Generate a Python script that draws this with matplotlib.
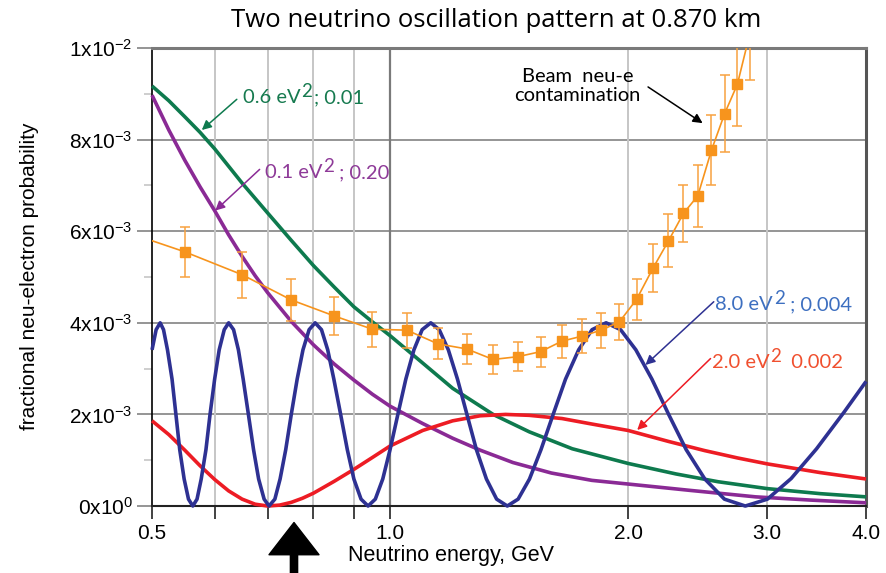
import matplotlib
matplotlib.use("Agg")
import matplotlib.pyplot as plt
from matplotlib.ticker import FixedLocator, NullLocator

plt.rcParams['font.family'] = ['Liberation Sans', 'DejaVu Sans']
plt.rcParams['mathtext.fontset'] = 'custom'
plt.rcParams['mathtext.rm'] = 'Liberation Sans'

# probabilities in units of 1e-3, energies in GeV
green_E = [0.50, 0.525, 0.55, 0.575, 0.60, 0.65, 0.70, 0.75, 0.80, 0.85, 0.90, 0.95, 1.00,
           1.10, 1.20, 1.35, 1.50, 1.70, 2.00, 2.30, 2.60, 3.00, 3.50, 4.00]
green_P = [9.17, 8.85, 8.50, 8.16, 7.80, 7.05, 6.40, 5.80, 5.25, 4.78, 4.35, 4.02, 3.72,
           3.12, 2.57, 2.00, 1.62, 1.25, 0.93, 0.70, 0.53, 0.38, 0.27, 0.20]

purple_E = [0.50, 0.525, 0.55, 0.575, 0.60, 0.625, 0.65, 0.675, 0.70, 0.75, 0.80, 0.85,
            0.90, 0.95, 1.00, 1.10, 1.20, 1.30, 1.43, 1.60, 1.80, 2.00, 2.40, 2.90, 3.40, 4.00]
purple_P = [8.97, 8.21, 7.55, 6.97, 6.45, 5.92, 5.45, 5.03, 4.66, 4.03, 3.52, 3.10,
            2.75, 2.44, 2.18, 1.80, 1.48, 1.22, 0.95, 0.72, 0.56, 0.48, 0.34, 0.20, 0.13, 0.07]

red_E = [0.50, 0.525, 0.55, 0.575, 0.60, 0.625, 0.65, 0.675, 0.70, 0.725, 0.75, 0.775,
         0.80, 0.85, 0.90, 0.95, 1.00, 1.10, 1.20, 1.30, 1.40, 1.50, 1.65, 1.80, 2.00,
         2.25, 2.50, 2.75, 3.00, 3.50, 4.00]
red_P = [1.86, 1.56, 1.22, 0.88, 0.58, 0.33, 0.15, 0.04, 0.00, 0.02, 0.08, 0.17,
         0.28, 0.54, 0.80, 1.06, 1.31, 1.65, 1.86, 1.97, 2.00, 1.98, 1.91, 1.79, 1.65,
         1.41, 1.21, 1.05, 0.92, 0.73, 0.59]

blue_E = [0.500, 0.506, 0.512, 0.517, 0.523, 0.530, 0.536, 0.542, 0.549, 0.556, 0.563,
          0.570, 0.577, 0.585, 0.592, 0.600, 0.608, 0.617, 0.625, 0.634, 0.643, 0.652,
          0.662, 0.672, 0.682, 0.693, 0.703,
          0.715, 0.726, 0.738, 0.750, 0.763, 0.776, 0.790, 0.804, 0.819, 0.834, 0.849,
          0.866, 0.883, 0.900, 0.919, 0.938,
          0.958, 0.979, 1.000, 1.023, 1.047, 1.072, 1.098, 1.126, 1.154, 1.185, 1.217,
          1.251, 1.286, 1.324, 1.364, 1.407,
          1.452, 1.501, 1.552, 1.608, 1.667, 1.732, 1.801, 1.876, 1.957, 2.046, 2.144,
          2.251, 2.369, 2.501, 2.648, 2.814,
          3.001, 3.216, 3.463, 3.752, 4.000]
blue_P = [3.41, 3.85, 4.00, 3.85, 3.41, 2.77, 2.00, 1.23, 0.59, 0.15, 0.00,
          0.15, 0.59, 1.23, 2.00, 2.77, 3.41, 3.85, 4.00, 3.85, 3.41, 2.77, 2.00, 1.23, 0.59, 0.15, 0.00,
          0.15, 0.59, 1.23, 2.00, 2.77, 3.41, 3.85, 4.00, 3.85, 3.41, 2.77, 2.00, 1.23, 0.59, 0.15, 0.00,
          0.15, 0.59, 1.23, 2.00, 2.77, 3.41, 3.85, 4.00, 3.85, 3.41, 2.77, 2.00, 1.23, 0.59, 0.15, 0.00,
          0.15, 0.59, 1.23, 2.00, 2.77, 3.41, 3.85, 4.00, 3.85, 3.41, 2.77, 2.00, 1.23, 0.59, 0.15, 0.00,
          0.15, 0.60, 1.25, 2.05, 2.72]

beam_E = [0.45, 0.55, 0.65, 0.75, 0.85, 0.95, 1.05, 1.15, 1.25, 1.35, 1.45, 1.55, 1.65,
          1.75, 1.85, 1.95, 2.05, 2.15, 2.25, 2.35, 2.45, 2.55, 2.65, 2.75, 2.85]
beam_P = [6.06, 5.55, 5.05, 4.50, 4.15, 3.86, 3.84, 3.54, 3.43, 3.20, 3.26, 3.37, 3.60,
          3.71, 3.84, 4.02, 4.51, 5.19, 5.79, 6.39, 6.77, 7.77, 8.57, 9.21, 10.3]
beam_err = [0.60, 0.55, 0.50, 0.46, 0.42, 0.38, 0.38, 0.34, 0.33, 0.31, 0.32, 0.33, 0.36,
            0.37, 0.38, 0.40, 0.45, 0.52, 0.58, 0.63, 0.67, 0.76, 0.85, 0.92, 1.00]

x_ticks = [0.5, 0.6, 0.7, 0.8, 0.9, 1.0, 2.0, 3.0, 4.0]
x_labels = ['0.5', '', '', '', '', '1.0', '2.0', '3.0', '4.0']
y_ticks = [0, 2, 4, 6, 8, 10]
y_labels = [r'$\mathrm{0x10^{0}}$', r'$\mathrm{2x10^{-3}}$', r'$\mathrm{4x10^{-3}}$',
            r'$\mathrm{6x10^{-3}}$', r'$\mathrm{8x10^{-3}}$', r'$\mathrm{1x10^{-2}}$']

GREEN = '#0e7a4e'
PURPLE = '#8a2a95'
RED = '#ed1c24'
NAVY = '#2e3192'
ORANGE = '#f7941d'

fig = plt.figure(figsize=(8.86, 5.73), dpi=100)
ax = fig.add_axes([0.1716, 0.1169, 0.8059, 0.7993])
ax.set_xscale('log')
ax.set_xlim(0.5, 4.0)
ax.set_ylim(0, 10)

# grid
for y in [2, 4, 6, 8]:
    ax.axhline(y, color='#8c8c8c', lw=1.3, zorder=1)
for x in [0.6, 0.7, 0.8, 0.9, 2.0, 3.0]:
    ax.axvline(x, color='#c6c6c6', lw=1.4, zorder=1)
ax.axvline(1.0, color='#7a7a7a', lw=1.6, zorder=1)

ax.spines['left'].set_color('black')
ax.spines['left'].set_linewidth(1.2)
ax.spines['bottom'].set_color('#222222')
ax.spines['bottom'].set_linewidth(1.5)
ax.spines['top'].set_color('#7a7a7a')
ax.spines['top'].set_linewidth(2.2)
ax.spines['right'].set_color('#555555')
ax.spines['right'].set_linewidth(2.2)

curve = dict(lw=2.6, clip_on=False, solid_joinstyle='round', solid_capstyle='butt')
ax.plot(green_E, green_P, color=GREEN, zorder=3, **curve)
ax.plot(purple_E, purple_P, color=PURPLE, zorder=3, **curve)
ax.plot(red_E, red_P, color=RED, zorder=3, **curve)
ax.plot(blue_E, blue_P, color=NAVY, zorder=4, **curve)

ax.errorbar(beam_E, beam_P, yerr=beam_err, fmt='none', ecolor='#f8a240',
            elinewidth=1.1, capsize=3.8, capthick=1.1, zorder=5)
ax.plot(beam_E, beam_P, color=ORANGE, lw=1.2, marker='s', ms=6.5, zorder=6)

ax.xaxis.set_major_locator(FixedLocator(x_ticks))
ax.xaxis.set_minor_locator(NullLocator())
ax.set_xticklabels(x_labels)
ax.tick_params(axis='x', direction='out', length=9, width=1.2, color='#222222',
               labelsize=15, pad=4)
ax.set_yticks(y_ticks, y_labels)
ax.set_yticks([1, 3, 5, 7, 9], minor=True)
ax.tick_params(axis='y', which='major', direction='out', length=11, width=1.3,
               color='#8c8c8c', labelsize=15, pad=3)
ax.tick_params(axis='y', which='minor', direction='out', length=6, width=1.2,
               color='#c6c6c6')


# curve labels: main text, big superscript 2, rest; plus a thin arrow
def label(main, rest, base, start, tip, tcolor, acolor, gap=0.0):
    kw = dict(color=tcolor, family='Lato', ha='left', va='baseline', zorder=7)
    t1 = ax.text(base[0], base[1], main, fontsize=14.5, **kw)
    t2 = ax.annotate('2', xy=(1, base[1]), xycoords=(t1, 'data'), xytext=(0.5, 4.5),
                     textcoords='offset points', fontsize=13.5, **kw)
    ax.annotate(rest, xy=(1, base[1]), xycoords=(t2, 'data'), xytext=(gap, 0),
                textcoords='offset points', fontsize=14.5, **kw)
    ax.annotate('', xy=tip, xytext=start,
                arrowprops=dict(arrowstyle='-|>', color=acolor, lw=1.1,
                                shrinkA=0, shrinkB=0, mutation_scale=14), zorder=7)


label('0.6 eV', '; 0.01', (0.652, 8.79), (0.640, 8.88), (0.578, 8.21),
      '#167a4f', GREEN, gap=1.5)
label('0.1 eV', ' ; 0.20', (0.695, 7.16), (0.684, 7.35), (0.601, 6.45),
      '#8e3a98', PURPLE)
label('8.0 eV', ' ; 0.004', (2.58, 4.28), (2.567, 4.46), (2.104, 3.08),
      '#3d6fc0', NAVY)
label('2.0 eV', '  0.002', (2.555, 3.01), (2.543, 3.22), (2.054, 1.66),
      '#f0502f', RED)

ax.text(1.726, 9.17, 'Beam  neu-e\ncontamination', family='Lato', fontsize=14.5,
        ha='center', va='center', linespacing=1.12, zorder=7)
ax.annotate('', xy=(2.485, 8.36), xytext=(2.12, 9.15),
            arrowprops=dict(arrowstyle='-|>', color='black', lw=1.1,
                            shrinkA=0, shrinkB=0, mutation_scale=14), zorder=7)

# big arrow under the energy axis
ax.annotate('', xy=(0.756, -0.036), xycoords=('data', 'axes fraction'),
            xytext=(0.756, -0.17), textcoords=('data', 'axes fraction'),
            arrowprops=dict(arrowstyle='simple,head_length=0.58,head_width=0.9,tail_width=0.13',
                            color='black', mutation_scale=40, shrinkA=0, shrinkB=0),
            annotation_clip=False)

fig.text(496 / 886, 1 - 27 / 573, 'Two neutrino oscillation pattern at 0.870 km',
         family='Open Sans', fontsize=18.5, ha='center', va='baseline')
fig.text(451 / 886, 1 - 556 / 573, 'Neutrino energy, GeV', fontsize=15.5,
         ha='center', va='center')
fig.text(30 / 886, 1 - 276 / 573, 'fractional neu-electron probability', fontsize=15,
         rotation=90, ha='center', va='center')

fig.savefig('out.png', dpi=100)
